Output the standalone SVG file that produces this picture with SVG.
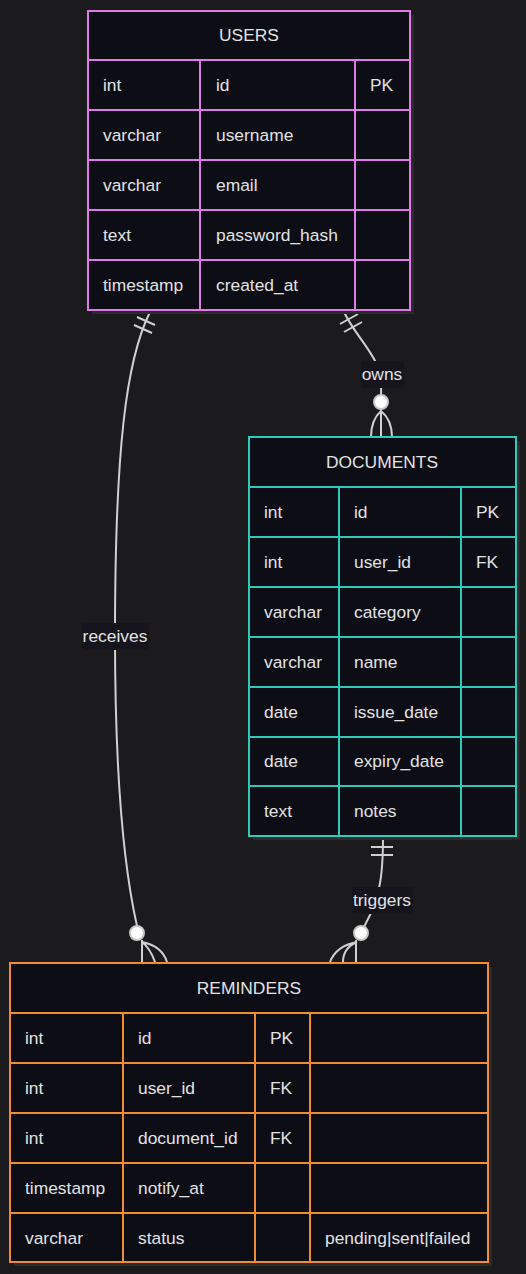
<svg xmlns="http://www.w3.org/2000/svg" width="526" height="1274" viewBox="0 0 526 1274">
<style>
.bg{fill:#1b1b1d}
.shadow{fill:#2b2b2f}
.box{fill:#0d0d15}
.u{stroke:#e07ae8;stroke-width:2;fill:none}
.d{stroke:#2ec9b8;stroke-width:2;fill:none}
.r{stroke:#f28c32;stroke-width:2;fill:none}
text{font-family:"Liberation Sans",Arial,sans-serif;font-size:17.4px;fill:#e2e2e2;dominant-baseline:central}
.h{text-anchor:middle}
.edge{stroke:#d0d0d0;stroke-width:2;fill:none}
.lbl{fill:#16151d}
.dot{fill:#ffffff;stroke:#c8c8c8;stroke-width:2}
</style>
<rect class="bg" x="0" y="0" width="526" height="1274"/>

<g id="connectors">
  <!-- receives -->
  <path class="edge" d="M150,312 C126,360 115,450 115,636 C115,820 130,895 137,926"/>
  <path class="edge" d="M137,317 L155,325 M134,325 L152,333"/>
  <rect class="lbl" x="82" y="623" width="67" height="27"/>
  <text class="h" x="115" y="636">receives</text>
  <path class="edge" d="M142,940 L142,962 M142,942 Q150,948 155,962 M142,942 Q162,946 167,962"/>
  <circle class="dot" cx="137" cy="933" r="7"/>
  <!-- owns -->
  <path class="edge" d="M344,312 C355,335 374,352 380,372 C382,385 381,392 381,396"/>
  <path class="edge" d="M340,324 L358,314 M344,332 L362,322"/>
  <rect class="lbl" x="361" y="361" width="43" height="27"/>
  <text class="h" x="382" y="374">owns</text>
  <path class="edge" d="M381,409 L381,437 M381,411 Q371,420 371,437 M381,411 Q392,420 392,437"/>
  <circle class="dot" cx="381" cy="402" r="7"/>
  <!-- triggers -->
  <path class="edge" d="M383,837 C383,860 382,875 379,888"/>
  <path class="edge" d="M371,847 L393,847 M371,855 L393,855"/>
  <path class="edge" d="M371,913 L364,927"/>
  <rect class="lbl" x="352" y="887" width="61" height="27"/>
  <text class="h" x="382" y="900">triggers</text>
  <path class="edge" d="M356,940 L356,962 M357,942 Q343,948 343,962 M357,942 Q336,946 330,962"/>
  <circle class="dot" cx="361" cy="933" r="7"/>
</g>

<g id="USERS">
  <rect class="shadow" x="92" y="15" width="322" height="299"/>
  <rect class="box" x="88" y="11" width="322" height="299"/>
  <rect class="u" x="88" y="11" width="322" height="299"/>
  <path class="u" d="M88,60 H410 M88,110 H410 M88,160 H410 M88,210 H410 M88,260 H410 M200,60 V310 M355,60 V310"/>
  <text class="h" x="249" y="35">USERS</text>
  <text x="103" y="85">int</text><text x="216" y="85">id</text><text x="370" y="85">PK</text>
  <text x="103" y="135">varchar</text><text x="216" y="135">username</text>
  <text x="103" y="185">varchar</text><text x="216" y="185">email</text>
  <text x="103" y="235">text</text><text x="216" y="235">password_hash</text>
  <text x="103" y="285">timestamp</text><text x="216" y="285">created_at</text>
</g>

<g id="DOCUMENTS">
  <rect class="shadow" x="253" y="441" width="267" height="399"/>
  <rect class="box" x="249" y="437" width="267" height="399"/>
  <rect class="d" x="249" y="437" width="267" height="399"/>
  <path class="d" d="M249,487 H516 M249,537 H516 M249,587 H516 M249,637 H516 M249,687 H516 M249,737 H516 M249,786 H516 M339,487 V836 M461,487 V836"/>
  <text class="h" x="382" y="462">DOCUMENTS</text>
  <text x="264" y="512">int</text><text x="354" y="512">id</text><text x="476" y="512">PK</text>
  <text x="264" y="562">int</text><text x="354" y="562">user_id</text><text x="476" y="562">FK</text>
  <text x="264" y="612">varchar</text><text x="354" y="612">category</text>
  <text x="264" y="662">varchar</text><text x="354" y="662">name</text>
  <text x="264" y="712">date</text><text x="354" y="712">issue_date</text>
  <text x="264" y="761">date</text><text x="354" y="761">expiry_date</text>
  <text x="264" y="811">text</text><text x="354" y="811">notes</text>
</g>

<g id="REMINDERS">
  <rect class="shadow" x="14" y="967" width="478" height="299"/>
  <rect class="box" x="10" y="963" width="478" height="299"/>
  <rect class="r" x="10" y="963" width="478" height="299"/>
  <path class="r" d="M10,1013 H488 M10,1063 H488 M10,1113 H488 M10,1163 H488 M10,1213 H488 M123,1013 V1262 M255,1013 V1262 M310,1013 V1262"/>
  <text class="h" x="249" y="988">REMINDERS</text>
  <text x="25" y="1038">int</text><text x="138" y="1038">id</text><text x="270" y="1038">PK</text>
  <text x="25" y="1088">int</text><text x="138" y="1088">user_id</text><text x="270" y="1088">FK</text>
  <text x="25" y="1138">int</text><text x="138" y="1138">document_id</text><text x="270" y="1138">FK</text>
  <text x="25" y="1188">timestamp</text><text x="138" y="1188">notify_at</text>
  <text x="25" y="1238">varchar</text><text x="138" y="1238">status</text><text x="325" y="1238">pending|sent|failed</text>
</g>
</svg>
